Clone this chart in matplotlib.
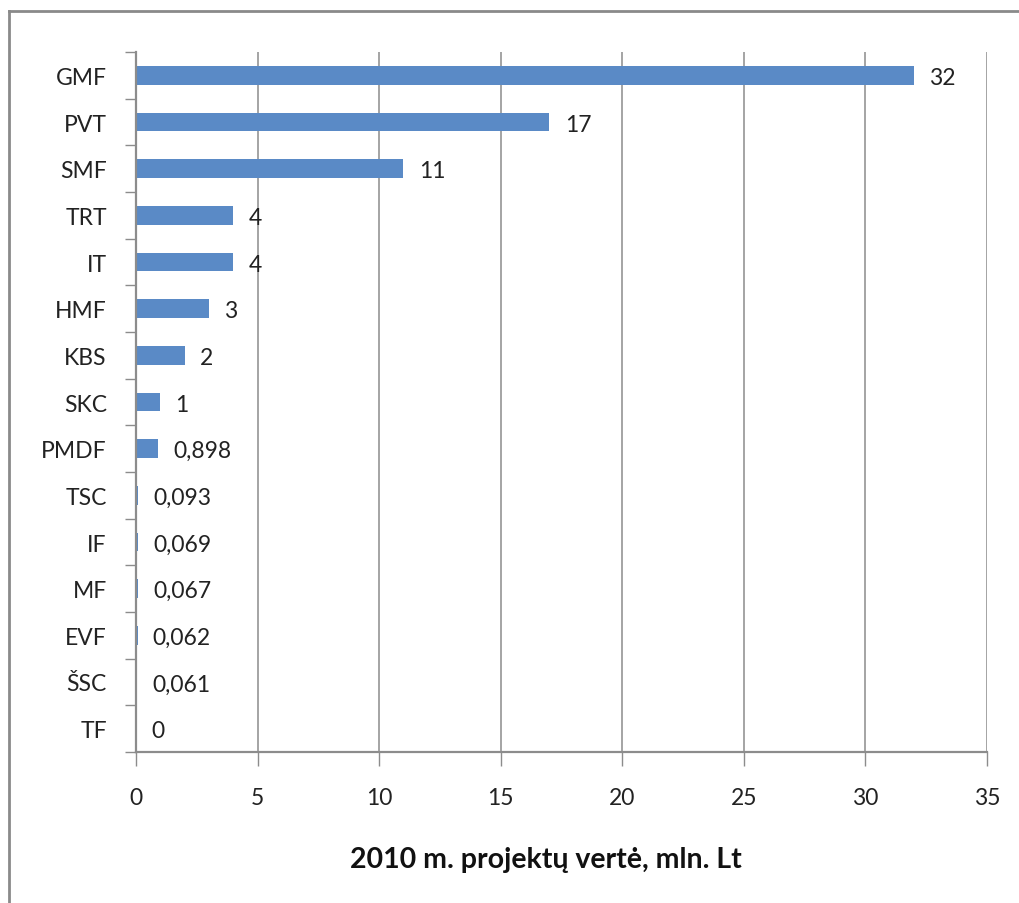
import matplotlib
matplotlib.use("Agg")
import matplotlib.pyplot as plt
from matplotlib.lines import Line2D

categories = ["GMF", "PVT", "SMF", "TRT", "IT", "HMF", "KBS", "SKC", "PMDF",
              "TSC", "IF", "MF", "EVF", "ŠSC", "TF"]
values = [32, 17, 11, 4, 4, 3, 2, 1, 0.898, 0.093, 0.069, 0.067, 0.062, 0.061, 0]
xticks = [0, 5, 10, 15, 20, 25, 30, 35]
xlabel = "2010 m. projektų vertė, mln. Lt"

plt.rcParams['font.family'] = ['Lato', 'DejaVu Sans']

fig = plt.figure(figsize=(10.19, 9.04), dpi=100)
ax = fig.add_axes([136/1019, 1-753/904, (987-136)/1019, (753-53)/904])

grid_c = '#8c8c8c'
bar_c = '#5A8AC6'
text_c = '#222222'

n = len(categories)
ypos = list(range(n))
ax.barh(ypos, values, height=0.4, color=bar_c, zorder=3)
ax.set_ylim(n - 0.5, -0.5)
ax.set_xlim(0, 35)
ax.set_xticks(xticks)
ax.set_xticklabels([str(t) for t in xticks])
ax.set_yticks(ypos)
ax.set_yticklabels(categories)

# category separators as minor ticks
ax.set_yticks([i - 0.5 for i in range(n + 1)], minor=True)
ax.tick_params(axis='y', which='major', length=0, pad=21, labelsize=16.5, colors=text_c)
ax.tick_params(axis='y', which='minor', length=8, width=1, color=grid_c, direction='out')
ax.tick_params(axis='x', which='major', length=10, width=1, color=grid_c, direction='out',
               pad=15, labelsize=16.5, labelcolor=text_c)

for s in ['top', 'right']:
    ax.spines[s].set_visible(False)
for s in ['left', 'bottom']:
    ax.spines[s].set_color(grid_c)
    ax.spines[s].set_linewidth(1.6)
    ax.spines[s].set_zorder(5)

ax.grid(axis='x', color=grid_c, linewidth=1.1, zorder=0)
ax.set_axisbelow(True)

def fmt(v):
    return f"{v:g}".replace('.', ',')

for y, v in zip(ypos, values):
    ax.annotate(fmt(v), xy=(v, y), xytext=(11, -1.5), textcoords='offset points',
                ha='left', va='center', fontsize=16.5, color=text_c, zorder=6)

ax.set_xlabel(xlabel, fontsize=20.5, fontweight='bold', color='#111111')
ax.xaxis.set_label_coords(0.482, -0.135)

# outer frame (left and top edges visible)
fig.add_artist(Line2D([9/1019, 9/1019], [0, 1-12/904], transform=fig.transFigure,
                      color='#8a8a8a', linewidth=2))
fig.add_artist(Line2D([9/1019, 1], [1-12/904, 1-12/904], transform=fig.transFigure,
                      color='#8a8a8a', linewidth=2))

fig.savefig("out.png", dpi=100, facecolor='white')
